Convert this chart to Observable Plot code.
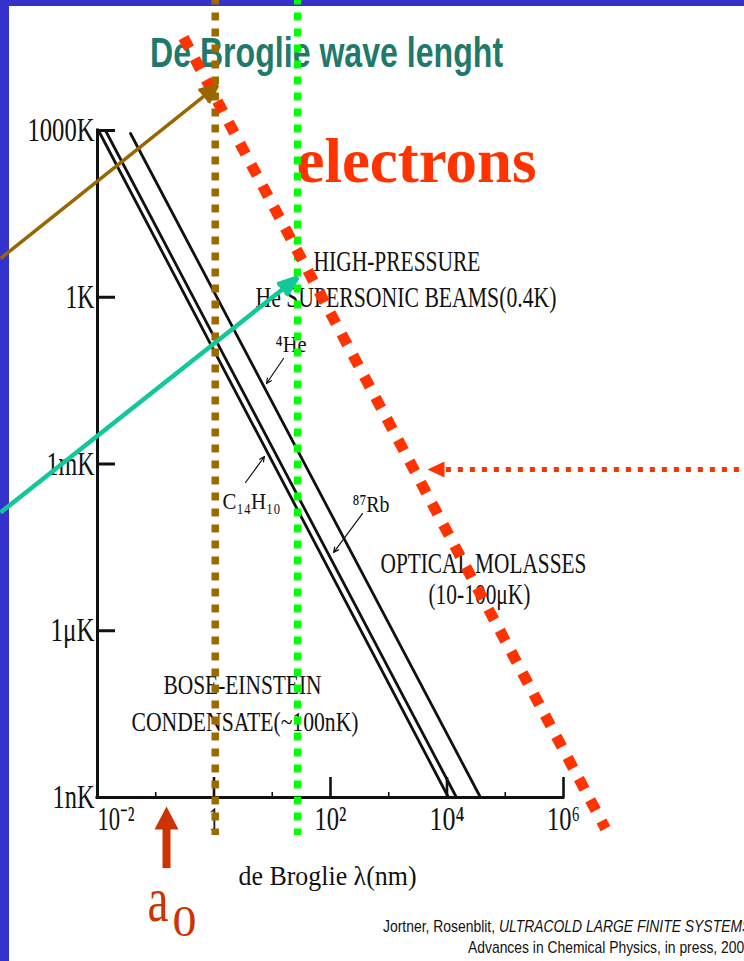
<!DOCTYPE html>
<html>
<head>
<meta charset="utf-8">
<script src="https://cdn.jsdelivr.net/npm/d3@7"></script>
<script src="https://cdn.jsdelivr.net/npm/@observablehq/plot@0.6"></script>
<style>
  html, body { margin: 0; padding: 0; width: 744px; height: 961px; overflow: hidden; background: #3333cc; }
  #sheet { position: absolute; left: 9px; top: 6px; right: 0; bottom: 0; background: #fff; }
  #title { position: absolute; left: 150px; top: 32px; font: bold 42px "Liberation Sans", Arial, sans-serif;
           color: #1f7a6c; white-space: nowrap; line-height: 1; transform-origin: 0 0; }
  #chart { position: absolute; left: 0; top: 0; }
  .cite { position: absolute; white-space: nowrap; font: 17px "Liberation Sans", Arial, sans-serif;
          color: #111; line-height: 21px; transform-origin: 0 0; }
</style>
</head>
<body>
<div id="sheet"></div>
<div id="title">De Broglie wave lenght</div>
<div id="chart"></div>
<div class="cite" id="cite1" style="left:383px; top:915.6px">Jortner, Rosenblit, <i>ULTRACOLD LARGE FINITE SYSTEMS</i></div>
<div class="cite" id="cite2" style="left:468px; top:936.6px">Advances in Chemical Physics, in press, 200</div>
<script>
// ---------------- data ----------------
// thermal de Broglie wavelength (nm) versus temperature (K)
const species    = ["C₁₄H₁₀", "⁸⁷Rb", "⁴He"];
const hotLambda  = [0.0104, 0.0137, 0.0369];
const hotTemp    = [1000, 1000, 884];
const coldLambda = [10620, 14560, 37600];
const coldTemp   = [1e-9, 1e-9, 1e-9];

// electrons (far lighter, so much longer wavelengths)
const electronLambda = [0.299, 5.26e6];
const electronTemp   = [4.7e4, 2.76e-10];

const yTicks      = [1e3, 1, 1e-3, 1e-6, 1e-9];
const yTickLabels = ["1000K", "1K", "1mK", "1μK", "1nK"];
const xTicks      = [1e-2, 1, 1e2, 1e4, 1e6];
const xTickLabels = ["10⁻²", "1", "10²", "10⁴", "10⁶"];
const xMinorTicks = [1e-1, 10, 1e3, 1e5];

const guideLambda  = [1.05, 27.1];   // brown and green guides (nm)
const bohrLambda   = 0.153;          // a0 marker
const coolingLevel = 7.96e-4;        // K, red pointer level

// ---------------- annotations (log10 λ, log10 T) ----------------
const figureLabels = [
  {text: "HIGH-PRESSURE", lgL: 1.708, lgT: 0.481, size: 30, w: 167},
  {text: "He SUPERSONIC BEAMS(0.4K)", lgL: 0.712, lgT: -0.167, size: 30, w: 301},
  {text: species[2], lgL: 1.056, lgT: -0.994, size: 23, w: 31},
  {text: species[0], lgL: 0.146, lgT: -3.801, size: 24, w: 58},
  {text: species[1], lgL: 2.378, lgT: -3.855, size: 24, w: 37},
  {text: "OPTICAL MOLASSES", lgL: 2.858, lgT: -4.970, size: 29, w: 206},
  {text: "(10-100μK)", lgL: 3.682, lgT: -5.510, size: 29, w: 102},
  {text: "BOSE-EINSTEIN", lgL: -0.867, lgT: -7.129, size: 27, w: 158},
  {text: "CONDENSATE(~100nK)", lgL: -1.416, lgT: -7.795, size: 28, w: 227},
  {text: "de Broglie λ(nm)", lgL: 0.421, lgT: -10.566, size: 27, w: 178}
];
const pointers = [
  {x1: 1.193, y1: -1.102, x2: 0.901, y2: -1.552},
  {x1: 0.541, y1: -3.333, x2: 0.867, y2: -2.865},
  {x1: 2.549, y1: -3.891, x2: 2.052, y2: -4.593}
];
const slideArrows = [
  {x1: -3.665, y1: 0.697, x2: 0.060, y2: 3.810, color: "#996600", sw: 3.5, head: 8.4, angle: 48},
  {x1: -3.665, y1: -3.873, x2: 1.4335, y2: 0.3552, color: "#12c89a", sw: 4.5, head: 7.1, angle: 39}
];
const electronLabel = [{text: "electrons", lgL: 1.416, lgT: 2.082, size: 64, w: 240}];
const bohrLabel = [
  {text: "a", lgL: -1.142, lgT: -11.213, size: 64, w: 21},
  {text: "0", lgL: -0.712, lgT: -11.483, size: 44, w: 24}
];
const tickWidths = {"1000K": 67, "1K": 29, "1mK": 48, "1μK": 44, "1nK": 42,
                    "10⁻²": 37, "1": 10, "10²": 32, "10⁴": 35, "10⁶": 33};

// ---------------- tables ----------------
const curves = species.flatMap((s, i) => [
  {species: s, lambda: hotLambda[i], T: hotTemp[i]},
  {species: s, lambda: coldLambda[i], T: coldTemp[i]}
]);
const electrons = electronLambda.map((l, i) => ({lambda: l, T: electronTemp[i]}));
const yTickRows = yTicks.map((v, i) => ({v, label: yTickLabels[i]}));
const xTickRows = xTicks.map((v, i) => ({v, label: xTickLabels[i]}));
const pow = (k) => (d) => 10 ** d[k];
const ink = "#111";
const serif = "Liberation Serif, Times New Roman, serif";

const chart = Plot.plot({
  width: 744, height: 961,
  marginLeft: 97, marginRight: 181, marginTop: 130, marginBottom: 164,
  x: {type: "log", domain: [1e-2, 1e6], axis: null},
  y: {type: "log", domain: [1e-9, 1e3], axis: null},
  marks: [
    // wavelength curves
    Plot.line(curves, {x: "lambda", y: "T", z: "species", stroke: ink, strokeWidth: 2.8}),
    // axes
    Plot.ruleX([1e-2], {y1: 1e-9, y2: 1e3, stroke: ink, strokeWidth: 3, strokeLinecap: "square"}),
    Plot.ruleY([1e-9], {x1: 1e-2, x2: 1e6, stroke: ink, strokeWidth: 3, strokeLinecap: "square"}),
    Plot.ruleY(yTicks, {x1: 1e-2, x2: 1e-2, insetRight: -18, stroke: ink, strokeWidth: 3}),
    Plot.ruleX(xTicks.slice(1), {y1: 1e-9, y2: 1e-9, insetBottom: 20, stroke: ink, strokeWidth: 2.6}),
    Plot.ruleX(xMinorTicks, {y1: 1e-9, y2: 1e-9, insetBottom: 5, stroke: ink, strokeWidth: 1.6}),
    Plot.text(yTickRows, {x: 1e-2, y: "v", text: "label", textAnchor: "end", dx: -3,
      fontSize: 33, fontFamily: serif, fill: ink}),
    Plot.text(xTickRows.slice(0, 1), {x: "v", y: 1e-9, text: "label", textAnchor: "start", lineAnchor: "top", dy: 9,
      fontSize: 33, fontFamily: serif, fill: ink}),
    Plot.text(xTickRows.slice(1), {x: "v", y: 1e-9, text: "label", lineAnchor: "top", dy: 9,
      fontSize: 33, fontFamily: serif, fill: ink}),
    // figure labels and pointers
    Plot.text(figureLabels, {x: pow("lgL"), y: pow("lgT"), text: "text", textAnchor: "start", lineAnchor: "bottom",
      fontSize: "size", fontFamily: serif, fill: ink}),
    Plot.arrow(pointers, {x1: pow("x1"), y1: pow("y1"), x2: pow("x2"), y2: pow("y2"),
      stroke: ink, strokeWidth: 1.2, headLength: 7, headAngle: 50}),
    // slide overlays
    Plot.text(electronLabel, {x: pow("lgL"), y: pow("lgT"), text: "text", textAnchor: "start", lineAnchor: "bottom",
      fontSize: "size", fontFamily: serif, fontWeight: "bold", fill: "#ff3300"}),
    Plot.text(bohrLabel, {x: pow("lgL"), y: pow("lgT"), text: "text", textAnchor: "start", lineAnchor: "bottom",
      fontSize: "size", fontFamily: serif, fill: "#cc3300"}),
    Plot.ruleX(guideLambda.slice(0, 1), {y1: 10 ** 5.4, y2: 10 ** -9.684, stroke: "#9c6a00", strokeWidth: 7.5, strokeDasharray: "8,8"}),
    Plot.ruleX(guideLambda.slice(1), {y1: 10 ** 5.4, y2: 10 ** -9.684, stroke: "#00ff00", strokeWidth: 7, strokeDasharray: "8,8"}),
    Plot.line(electrons, {x: "lambda", y: "T", stroke: "#ff3300", strokeWidth: 11, strokeDasharray: "12,12",
      strokeLinecap: "butt"}),
    Plot.ruleY([coolingLevel], {x1: 10 ** 3.99, x2: 10 ** 9.3, stroke: "#ff3300", strokeWidth: 5, strokeDasharray: "5,7",
      strokeLinecap: "butt"}),
    Plot.vector([coolingLevel], {x: 10 ** 3.665, y: (d) => d, length: 17, r: 8, rotate: -90, anchor: "end",
      shape: "spike", fill: "#ff3300", stroke: "none"}),
    ...slideArrows.map((a) => Plot.arrow([a], {x1: pow("x1"), y1: pow("y1"), x2: pow("x2"), y2: pow("y2"),
      stroke: a.color, fill: a.color, strokeWidth: a.sw, headLength: a.head, headAngle: a.angle, strokeLinecap: "butt"})),
    Plot.ruleX([bohrLambda], {y1: 10 ** -10.278, y2: 10 ** -9.50, stroke: "#cc3300", strokeWidth: 8}),
    Plot.vector([bohrLambda], {x: (d) => d, y: 10 ** -9.163, length: 23, r: 12, rotate: 0, anchor: "end",
      shape: "spike", fill: "#cc3300", stroke: "none"})
  ]
});
chart.style.background = "none";
chart.style.overflow = "hidden";
document.getElementById("chart").append(chart);

// narrow the serif lettering to its set widths
const fit = new Map([...Object.entries(tickWidths),
  ...figureLabels.map((d) => [d.text, d.w]), ...electronLabel.map((d) => [d.text, d.w]),
  ...bohrLabel.map((d) => [d.text, d.w])]);
chart.querySelectorAll("text").forEach((t) => {
  const w = fit.get(t.textContent);
  if (w) { t.setAttribute("textLength", w); t.setAttribute("lengthAdjust", "spacingAndGlyphs"); }
});

// title and citation widths
function squeeze(id, width) {
  const el = document.getElementById(id);
  el.style.transform = `scaleX(${width / el.offsetWidth})`;
}
squeeze("title", 353);
squeeze("cite1", 368);
squeeze("cite2", 276);
</script>
</body>
</html>
